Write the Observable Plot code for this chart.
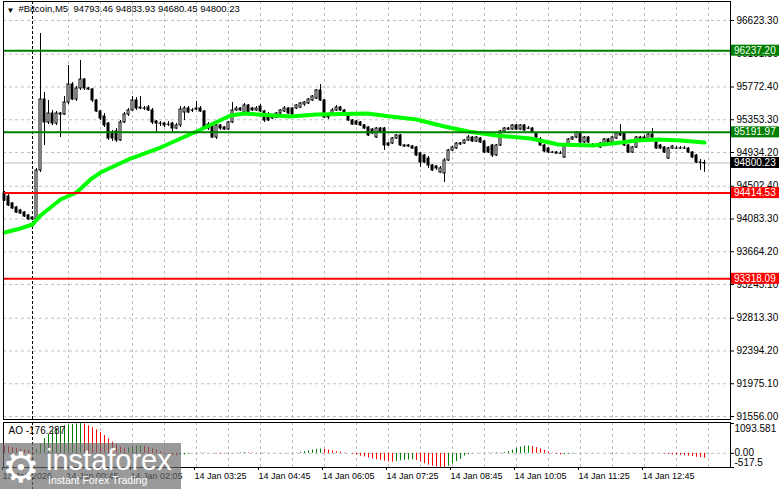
<!DOCTYPE html>
<html><head><meta charset="utf-8">
<script src="https://cdn.jsdelivr.net/npm/d3@7"></script>
<script src="https://cdn.jsdelivr.net/npm/@observablehq/plot@0.6"></script>
<style>
html,body{margin:0;padding:0;background:#fff;}
#chart{position:relative;width:781px;height:489px;overflow:hidden;background:#fff;}
#chart svg{position:absolute;left:0;}
</style></head><body><div id="chart"></div>
<script>
const symbol = "#Bitcoin,M5";
const opens = [94410,94371,94282,94230,94192,94166,94128,94102,94077,94704,
95612,95318,95433,95305,95433,95420,95574,95804,95612,95753,
95868,95753,95740,95600,95459,95395,95305,95190,95203,95088,
95318,95420,95472,95600,95510,95497,95510,95472,95331,95305,
95305,95292,95305,95241,95280,95446,95497,95472,95484,95497,
95459,95292,95280,95126,95280,95254,95228,95318,95472,95497,
95446,95536,95497,95472,95523,95459,95420,95369,95382,95433,
95459,95497,95497,95497,95510,95548,95561,95600,95625,95728,
95600,95395,95433,95472,95510,95472,95408,95344,95331,95318,
95280,95254,95228,95126,95241,95241,95049,95049,95113,95152,
95024,95024,95011,94998,94921,94896,94857,94768,94755,94678,
94666,94832,94960,94985,95037,95049,95088,95126,95075,95113,
95075,94998,95024,94896,95024,95203,95241,95228,95280,95228,
95280,95241,95241,95177,95101,95024,94985,94934,94934,94921,
94870,95024,95101,95126,95190,95062,95126,95024,95011,94998,
95049,95101,95062,95113,95177,95177,95024,94934,94998,95126,
95126,95101,95164,95062,95024,94998,94857,94985,94985,94985,
94985,94985,94934,94896,94806,94793.46];
const highs = [94435,94397,94294,94243,94205,94179,94141,94115,94730,96457,
95702,95600,95472,95459,95446,95651,96048,95830,95779,96111,
95881,95766,95753,95612,95472,95433,95318,95216,95241,95344,
95446,95497,95651,95638,95651,95523,95536,95497,95344,95331,
95318,95331,95318,95305,95523,95523,95523,95497,95587,95523,
95472,95318,95292,95292,95292,95267,95331,95574,95523,95510,
95561,95548,95510,95523,95548,95472,95446,95420,95446,95484,
95523,95510,95510,95548,95574,95587,95625,95664,95740,95804,
95612,95408,95497,95536,95523,95484,95420,95356,95344,95331,
95292,95267,95241,95254,95254,95254,95062,95126,95164,95164,
95037,95037,95024,95011,94934,94909,94883,94781,94768,94755,
94857,94973,95011,95062,95062,95101,95152,95139,95139,95126,
95088,95011,95037,95037,95216,95254,95254,95292,95292,95292,
95292,95267,95254,95190,95126,95037,94998,94947,94947,94947,
95037,95113,95139,95203,95203,95139,95139,95049,95037,95062,
95113,95113,95139,95190,95292,95190,95037,95011,95139,95139,
95152,95177,95241,95075,95037,95011,94998,95024,95011,95011,
95011,94998,94947,94909,94845,94833.93];
const lows = [94307,94243,94205,94154,94141,94102,94064,94064,94064,94678,
95024,95292,95280,95280,95126,95408,95548,95600,95587,95728,
95728,95728,95574,95446,95344,95254,95088,95075,95062,95075,
95305,95395,95459,95472,95484,95472,95459,95292,95177,95267,
95254,95267,95190,95228,95254,95344,95433,95446,95472,95446,
95241,95216,95113,95101,95216,95216,95216,95305,95459,95459,
95433,95433,95459,95459,95446,95318,95331,95356,95369,95408,
95446,95420,95395,95484,95497,95523,95548,95587,95612,95587,
95369,95356,95420,95459,95459,95420,95331,95280,95280,95267,
95228,95139,95164,95113,95177,94960,95011,95037,95101,95011,
94998,94998,94973,94883,94742,94793,94730,94691,94704,94666,
94550,94819,94947,94973,95024,95037,95075,95062,95062,95049,
94921,94921,94870,94883,95011,95190,95216,95216,95216,95216,
95203,95228,95177,95113,95011,94934,94921,94921,94909,94909,
94857,95011,95088,95113,95049,95049,95049,95011,94998,94985,
95037,95049,95049,95101,95139,95011,94921,94921,94985,95075,
95088,95088,95113,94973,94973,94921,94845,94973,94973,94973,
94973,94921,94857,94793,94704,94680.45];
const closes = [94320,94256,94218,94166,94154,94115,94077,94077,94704,95612,
95318,95433,95305,95433,95420,95574,95804,95612,95753,95868,
95753,95740,95600,95459,95369,95280,95113,95113,95088,95318,
95420,95472,95600,95497,95497,95495,95472,95318,95305,95303,
95280,95290,95241,95280,95484,95497,95446,95470,95497,95459,
95254,95241,95126,95280,95241,95228,95318,95472,95497,95472,
95536,95446,95472,95497,95459,95344,95344,95408,95433,95472,
95497,95433,95420,95536,95561,95574,95612,95651,95728,95600,
95382,95382,95472,95510,95472,95433,95344,95292,95292,95280,
95241,95152,95177,95241,95190,95024,95024,95113,95152,95024,
95011,95011,94985,94896,94806,94806,94768,94704,94730,94730,
94832,94960,94998,95049,95049,95088,95126,95075,95126,95062,
94934,94934,94896,95024,95203,95241,95228,95280,95228,95280,
95216,95239,95190,95126,95024,94947,94934,94932,94921,94919,
95024,95101,95126,95190,95062,95126,95062,95022,95009,95049,
95101,95062,95126,95177,95152,95024,94934,94998,95126,95088,
95101,95164,95126,94985,94985,94934,94985,95011,94983,94987,
94984,94934,94870,94806,94803,94800.23];

const maIdx = [0,4,7,9,11.5,14,18,21.5,24,31.5,39,48,56.5,60,71.5,78,90.75,96.5,103,110,116,123,131.5,138.5,147,152,158,163.5,169,175];
const maValues = [93911,93962,94013,94128,94230,94333,94422,94589,94678,94857,94998,95203,95408,95433,95395,95420,95433,95395,95356,95267,95203,95152,95113,95037,95024,95049,95088,95101,95088,95062];

const aoValues = [260,240,205,170,140,120,105,90,150,330,
540,690,820,910,970,1010,1040,1060,1080,1093.581,
1070,1010,940,860,760,650,530,410,310,230,
185,200,235,265,280,260,220,170,120,60,
15,-35,-80,-95,-75,-55,-35,-15,5,15,
10,0,-10,-20,-25,-15,-10,5,15,22,
28,20,15,10,18,12,8,3,-3,-8,
-12,-15,-8,10,35,65,95,125,150,160,
145,120,90,60,40,20,0,-30,-60,-100,
-135,-165,-200,-230,-255,-285,-310,-320,-295,-275,
-255,-245,-235,-260,-320,-380,-430,-470,-495,-510,
-517.5,-470,-390,-300,-220,-100,-40,-10,5,10,
5,15,10,20,15,35,70,120,190,230,
260,270,250,210,165,110,50,10,-25,-55,
-45,-30,-20,-10,5,10,5,-5,-10,0,
5,10,15,10,5,0,5,10,5,0,
-5,-10,-5,0,-10,-20,-40,-50,-60,-70,
-85,-100,-120,-140,-160,-176.287];

const priceTicks = [96623.30,96191.50,95772.40,95353.30,94934.20,94502.40,94083.30,93664.20,93245.10,92813.30,92394.20,91975.10,91556.00];
const resistanceLevels = [96237.20, 95191.97];
const supportLevels = [94414.53, 93318.09];
const bidPrice = [closes[closes.length - 1]];
const timeTickIdx = [0,16,32,48,64,80,96,112,128,144,160];
const timeTickLabels = ["13 Jan 2026","14 Jan 00:45","14 Jan 02:05","14 Jan 03:25","14 Jan 04:45","14 Jan 06:05","14 Jan 07:25","14 Jan 08:45","14 Jan 10:05","14 Jan 11:25","14 Jan 12:45"];
const gridIdx = [16,24,32,40,48,56,64,72,80,88,96,104,112,120,128,136,144,152,160,168,176];
const daySeparatorIdx = [7];
const aoAxisValues = [1093.581, 0, -517.5];
const aoAxisLabels = ["1093.581", "0.00", "-517.5"];

const FONT = '"Liberation Sans", Arial, sans-serif';
const xDomain = [-0.25, 181.5];
const yDomain = [91556, 96623.3];

const candles = opens.map((o, k) => ({i: k, open: o, high: highs[k], low: lows[k], close: closes[k]}));
const ma = maIdx.map((x, k) => ({i: x, v: maValues[k]}));
const aoData = aoValues.map((v, k) => ({i: k, v, up: k > 0 && v > aoValues[k - 1]}));
const last = candles[candles.length - 1];
const header = symbol + "\u00a0\u00a0" + [last.open, last.high, last.low, last.close].map(d => d.toFixed(2)).join(" ");
const labelByIdx = new Map(timeTickIdx.map((d, k) => [d, timeTickLabels[k]]));
const gridStyle = {stroke: "#c0c0c0", strokeOpacity: 1, strokeDasharray: "3,3"};

const main = Plot.plot({
  width: 781, height: 421,
  marginLeft: 3, marginRight: 51, marginTop: 1, marginBottom: 2,
  style: {fontFamily: FONT, fontSize: "10px", color: "black", background: "transparent", overflow: "visible"},
  x: {domain: xDomain, axis: null},
  y: {domain: yDomain, range: [416, 20], axis: null},
  marks: [
    Plot.gridY({ticks: priceTicks, ...gridStyle}),
    Plot.gridX({ticks: gridIdx, ...gridStyle}),
    Plot.ruleY(bidPrice, {stroke: "#c0c0c0"}),
    Plot.ruleX(daySeparatorIdx, {stroke: "black", strokeDasharray: "3,2"}),
    Plot.ruleX(candles, {x: "i", y1: "low", y2: "high", stroke: "black"}),
    Plot.rect(candles, {x1: d => d.i - 0.25, x2: d => d.i + 0.25, y1: "open", y2: "close",
      fill: d => d.close >= d.open ? "white" : "black", stroke: "black"}),
    Plot.line(ma, {x: "i", y: "v", stroke: "#00ff00", strokeWidth: 4}),
    Plot.ruleY(resistanceLevels, {stroke: "#008000", strokeWidth: 2}),
    Plot.ruleY(supportLevels, {stroke: "#ff0000", strokeWidth: 2}),
    Plot.frame({stroke: "black"}),
    Plot.axisY({anchor: "right", ticks: priceTicks, tickFormat: d => d.toFixed(2), tickSize: 3, tickPadding: 3, label: null, fontSize: 10}),
    Plot.text(["\u25BC"], {frameAnchor: "top-left", dx: 3, dy: 6, fontSize: 8, textAnchor: "start", lineAnchor: "top"}),
    Plot.text([header], {frameAnchor: "top-left", dx: 15, dy: 4, fontSize: 9.5, textAnchor: "start", lineAnchor: "top"})
  ]
});
main.style.top = "0px";

const ao = Plot.plot({
  width: 781, height: 68,
  marginLeft: 3, marginRight: 51, marginTop: 1, marginBottom: 22,
  style: {fontFamily: FONT, fontSize: "10px", color: "black", background: "transparent", overflow: "visible"},
  x: {domain: xDomain, axis: null},
  y: {domain: [-517.5, 1093.581], range: [46, 2], axis: null},
  marks: [
    Plot.gridX({ticks: gridIdx, ...gridStyle}),
    Plot.gridY({ticks: [0], ...gridStyle}),
    Plot.ruleX(daySeparatorIdx, {stroke: "black", strokeDasharray: "3,2", insetBottom: -22}),
    Plot.ruleX(aoData, {x: "i", y1: 0, y2: "v", stroke: d => d.up ? "#008000" : "#ff0000"}),
    Plot.frame({stroke: "black"}),
    Plot.axisX({anchor: "bottom", ticks: timeTickIdx, tickFormat: d => labelByIdx.get(d), tickSize: 3, tickPadding: 2, textAnchor: "start", dx: -2, fontSize: 9, label: null}),
    Plot.axisY({anchor: "right", ticks: aoAxisValues, tickFormat: () => "", tickSize: 3, label: null}),
    Plot.text([aoAxisValues[0]], {y: d => d, text: () => aoAxisLabels[0], frameAnchor: "right", dx: 4, dy: 5, textAnchor: "start", fontSize: 10}),
    Plot.text([aoAxisValues[1]], {y: d => d, text: () => aoAxisLabels[1], frameAnchor: "right", dx: 4, dy: -1, textAnchor: "start", fontSize: 10}),
    Plot.text([aoAxisValues[2]], {y: d => d, text: () => aoAxisLabels[2], frameAnchor: "right", dx: 4, dy: -5, textAnchor: "start", fontSize: 10}),
    Plot.text(["AO " + aoValues[aoValues.length - 1].toFixed(3)], {frameAnchor: "top-left", dx: 5, dy: 4, fontSize: 10, textAnchor: "start", lineAnchor: "top"})
  ]
});
ao.style.top = "421px";

const chart = document.getElementById("chart");
chart.appendChild(main);
chart.appendChild(ao);

// price tags on the right axis
const ys = main.scale("y");
const yf = (ys && typeof ys.apply === "function") ? (v => ys.apply(v)) : d3.scaleLinear().domain(yDomain).range([416, 20]);
const tagData = [
  ...resistanceLevels.map(v => ({v, bg: "#008000"})),
  ...supportLevels.map(v => ({v, bg: "#ff0000"})),
  ...bidPrice.map(v => ({v, bg: "#000000"}))
];
const tg = d3.select(main).append("g").attr("font-family", FONT).attr("font-size", 10).attr("text-anchor", "start");
tagData.forEach(t => {
  const y = yf(t.v);
  tg.append("rect").attr("x", 731).attr("y", y - 5.5).attr("width", 48).attr("height", 11).attr("fill", t.bg);
  tg.append("text").attr("x", 734).attr("y", y).attr("dy", "0.35em").attr("text-anchor", "start").attr("fill", "white").text(t.v.toFixed(2));
});

// watermark
const wm = d3.select(chart).append("svg").attr("width", 181).attr("height", 46)
  .style("top", "443px").style("left", "0px");
wm.append("rect").attr("width", 181).attr("height", 46).attr("fill", "#6a6a6a").attr("fill-opacity", 0.68);
wm.append("text").attr("x", 2).attr("y", 39).attr("font-family", "DejaVu Sans").attr("font-size", 42).attr("fill", "white").text("\u2699");
wm.append("text").attr("x", 46).attr("y", 27).attr("font-family", FONT).attr("font-size", 29).attr("fill", "white").text("instaforex");
wm.append("text").attr("x", 48).attr("y", 41).attr("font-family", FONT).attr("font-size", 10.5).attr("fill", "white").text("Instant Forex Trading");
</script></body></html>
